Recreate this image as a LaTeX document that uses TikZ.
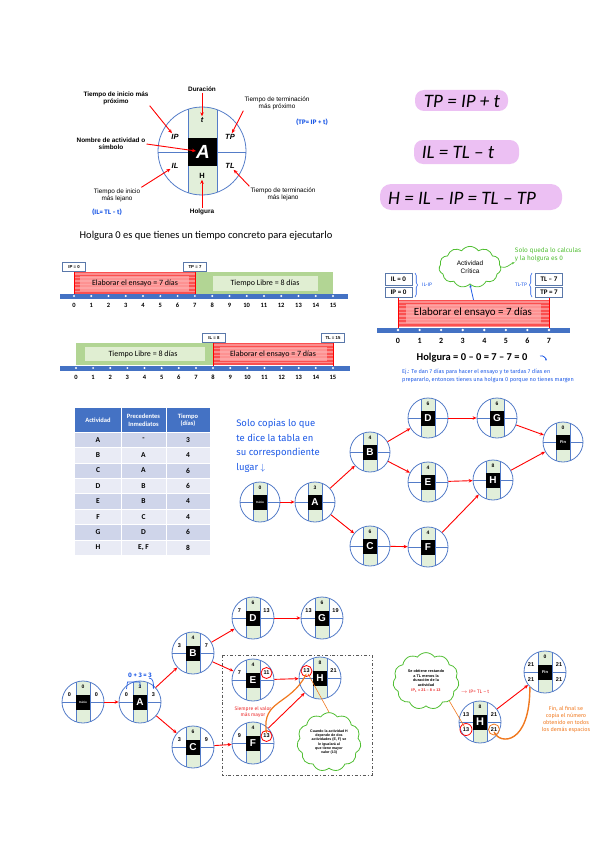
\documentclass[tikz,border=0pt]{standalone}
\usepackage{fontspec}
\setmainfont{Liberation Sans}
\newfontfamily\calib{Carlito}
\newfontfamily\hand{Fira Sans}
\usetikzlibrary{shapes.symbols,shapes.geometric,arrows.meta,decorations.pathreplacing,calc}
\definecolor{cblue}{RGB}{84,124,200}
\definecolor{cgreen}{RGB}{226,239,218}
\definecolor{hblue}{RGB}{30,90,230}
\definecolor{hgreen}{RGB}{80,190,50}
\definecolor{horange}{RGB}{240,120,30}
\definecolor{hred}{RGB}{235,40,40}
\definecolor{hpurple}{RGB}{236,192,243}
\definecolor{gred}{RGB}{250,80,80}
\definecolor{gredl}{RGB}{255,175,175}
\definecolor{ggreen}{RGB}{178,213,148}
\definecolor{ggreenl}{RGB}{224,238,210}
\definecolor{axblue}{RGB}{68,114,196}
\definecolor{trowa}{RGB}{207,213,234}
\definecolor{trowb}{RGB}{233,235,245}
\definecolor{boxbd}{RGB}{90,120,170}
\newcommand{\fsz}[2]{\fontsize{#1}{#2}\selectfont}
\tikzset{
  redarr/.style={draw=red, line width=0.9pt, -{Stealth[length=4pt,width=3.5pt]}},
  actc/.style={circle, draw=cblue, line width=0.8pt, inner sep=0pt},
  legtxt/.style={font=\bfseries\fsz{6.4}{7}, align=center, inner sep=1pt},
  legtxtn/.style={font=\fsz{6.4}{7}, align=center, inner sep=1pt},
  qtxt/.style={font=\bfseries\fsz{5.5}{6}, inner sep=0.5pt},
  gbox/.style={draw=boxbd, fill=white, line width=0.6pt, font=\bfseries\fsz{4.3}{5}, inner sep=1pt, minimum width=23pt, minimum height=9pt},
  rbox/.style={draw=boxbd, fill=white, line width=0.8pt, font=\calib\bfseries\fsz{7}{8}, inner sep=0pt, minimum width=27pt},
  gtxt/.style={font=\calib\fsz{8}{9}},
  numf/.style={font=\calib\bfseries\fsz{6.5}{7}, inner sep=0pt},
  handb/.style={text=hblue, font=\hand\fsz{6.5}{8}, align=left, inner sep=0pt},
  cloudg/.style={cloud, cloud puffs=11, cloud puff arc=110, draw=hgreen, line width=0.8pt, fill=white, align=center, inner sep=0pt},
  tcell/.style={font=\calib\bfseries\fsz{7.5}{8}, inner sep=0pt},
  thd/.style={font=\calib\bfseries\fsz{6.5}{7.5}, text=white, align=center, inner sep=0pt}
}
% activity node: name, x, y, radius, label, label font, top number
\newcommand{\actv}[7]{%
  \begin{scope}
    \clip (#2,#3) circle[radius=#4];
    \fill[cgreen] (#2-7,#3-#4) rectangle (#2+7,#3+#4);
    \draw[cblue,line width=0.6pt] (#2-7,#3-#4) -- (#2-7,#3+#4) (#2+7,#3-#4) -- (#2+7,#3+#4) (#2-#4,#3) -- (#2+#4,#3);
  \end{scope}
  \fill[black] (#2-7,#3-7.5) rectangle (#2+7,#3+7.5);
  \node[actc, minimum size=#4*2pt] (#1) at (#2,#3) {};
  \node[text=white, font=#6, inner sep=0pt] (#1l) at (#2,#3) {#5};
  \node[font=\bfseries\fsz{5}{6}, inner sep=0pt] (#1t) at (#2,#3-#4+6) {#7};
}
\newcommand{\qnum}[4]{\node[qtxt] (#1) at (#2,#3) {#4};}
\begin{document}
\begin{tikzpicture}[x=1pt,y=-1pt]
\useasboundingbox (0,0) rectangle (600,848);

% ================= legend (top-left)
\begin{scope}
  \clip (202,151) circle[radius=44];
  \fill[cgreen] (188,100) rectangle (217,200);
  \draw[cblue,line width=0.7pt] (188,100) -- (188,200) (217,100) -- (217,200) (150,152) -- (260,152);
\end{scope}
\fill[black] (188,138) rectangle (217,166);
\node[actc, minimum size=88pt] (bigc) at (202,151) {};
\node[text=white, font=\bfseries\itshape\fsz{19}{20}, inner sep=0pt] (bigA) at (203,152) {A};
\node[font=\bfseries\itshape\fsz{7.5}{8}, inner sep=1pt] (bt) at (202,120) {t};
\node[font=\bfseries\fsz{7.5}{8}, inner sep=1pt] (bH) at (202,176) {H};
\node[font=\bfseries\itshape\fsz{7.5}{8}, inner sep=1pt] (bIP) at (175,137) {IP};
\node[font=\bfseries\itshape\fsz{7.5}{8}, inner sep=1pt] (bTP) at (230,137) {TP};
\node[font=\bfseries\itshape\fsz{7.5}{8}, inner sep=1pt] (bIL) at (175,166) {IL};
\node[font=\bfseries\itshape\fsz{7.5}{8}, inner sep=1pt] (bTL) at (230,166) {TL};

\node[legtxt] (lDur) at (202,89) {Duración};
\node[legtxt] (lIPp) at (116,98) {Tiempo de inicio más\\próximo};
\node[legtxtn] (lTPp) at (277,103) {Tiempo de terminación\\más próximo};
\node[legtxt] (lNom) at (111,144) {Nombre de actividad o\\símbolo};
\node[legtxtn] (lILl) at (117,195) {Tiempo de inicio\\más lejano};
\node[legtxtn] (lTLl) at (283,194) {Tiempo de terminación\\más lejano};
\node[legtxt] (lHol) at (202,212) {Holgura};
\node[handb, font=\hand\bfseries\fsz{6.5}{8}] (fTP) at (312,122) {(TP= IP + t)};
\node[handb, font=\hand\bfseries\fsz{6.5}{8}] (fIL) at (107,212) {(IL= TL - t)};

\draw[redarr] (lDur) -- (bt);
\draw[redarr] (lIPp.south east) -- (bIP);
\draw[redarr] (lTPp.south west) -- (bTP);
\draw[redarr] (lNom.east) -- (bigA);
\draw[redarr] (lILl.north east) -- (bIL);
\draw[redarr] (lTLl.north west) -- (bTL);
\draw[redarr] (lHol) -- (bH);

% ================= formulas (top-right)
\fill[hpurple, rounded corners=9pt] (415,90) rectangle (508,111);
\fill[hpurple, rounded corners=9pt] (414,140) rectangle (519,164);
\fill[hpurple, rounded corners=11pt] (380,184) rectangle (562,210);
\node[font=\calib\itshape\fsz{19}{21}, inner sep=0pt] (f1) at (462,101) {TP = IP + t};
\node[font=\calib\itshape\fsz{19}{21}, inner sep=0pt] (f2) at (458,152) {IL = TL – t};
\node[font=\calib\itshape\fsz{19}{21}, inner sep=0pt] (f3) at (462,198) {H = IL – IP = TL – TP};

% ================= Holgura sentence
\node[font=\calib\fsz{10.5}{11}, inner sep=0pt] (hsent) at (206,236) {Holgura 0 es que tienes un tiempo concreto para ejecutarlo};

% ================= Gantt 1
\fill[gred] (74,272) rectangle (195,295);
\foreach \yy in {274,277.5,...,294} {\draw[white,opacity=0.35,line width=1.1pt] (74,\yy) -- (195,\yy);}
\fill[gredl,opacity=0.7] (80,276) rectangle (189,291);
\fill[ggreen] (195,272) rectangle (333,295);
\fill[ggreenl] (213,276) rectangle (318,291);
\draw[red,line width=0.8pt] (74,268) -- (74,296) (195,268) -- (195,296);
\fill[axblue] (60,293.5) rectangle (348,298.5);
\foreach \i in {0,...,15} {
  \fill[white] (74+\i*17.27,296) circle[radius=1.1];
  \node[numf] (ga\i) at (74+\i*17.27,305) {\i};
}
\node[gtxt] (g1a) at (135,283) {Elaborar el ensayo = 7 días};
\node[gtxt] (g1b) at (265,283) {Tiempo Libre = 8 días};
\node[gbox] (g1ip) at (74,267) {IP = 0};
\node[gbox, line width=1pt] (g1tp) at (195,267) {TP = 7};

% ================= Gantt 2
\fill[ggreen] (76,343) rectangle (213,365);
\fill[ggreenl] (85,347) rectangle (205,361);
\fill[gred] (213,343) rectangle (333,365);
\foreach \yy in {345,348.5,...,365} {\draw[white,opacity=0.35,line width=1.1pt] (213,\yy) -- (333,\yy);}
\fill[gredl,opacity=0.7] (220,347) rectangle (327,361);
\draw[red,line width=0.8pt] (213,343) -- (213,368) (333,343) -- (333,368);
\fill[axblue] (60,365.5) rectangle (350,370.5);
\foreach \i in {0,...,15} {
  \fill[white] (76+\i*17.13,368) circle[radius=1.1];
  \node[numf] (gb\i) at (76+\i*17.13,377) {\i};
}
\node[gtxt] (g2a) at (143,354) {Tiempo Libre = 8 días};
\node[gtxt] (g2b) at (273,354) {Elaborar el ensayo = 7 días};
\node[gbox] (g2il) at (214,338) {IL = 8};
\node[gbox] (g2tl) at (333,338) {TL = 15};

% ================= Gantt 3 (right)
\node[fill=gred, minimum width=151pt, minimum height=27pt, inner sep=0pt] (rbar) at (473.5,313.5) {};
\foreach \yy in {302,305.5,...,327} {\draw[white,opacity=0.35,line width=1.1pt] (398,\yy) -- (549,\yy);}
\fill[gredl,opacity=0.7] (406,304) rectangle (541,323);
\draw[red,line width=0.8pt] (398,298) -- (398,330) (549,298) -- (549,330);
\fill[axblue] (377,327.5) rectangle (570,332.5);
\foreach \i in {0,...,7} {
  \fill[white] (398+\i*21.57,330) circle[radius=1.3];
  \node[font=\calib\bfseries\fsz{8}{9}, inner sep=0pt] (gc\i) at (398+\i*21.57,341) {\i};
}
\node[font=\calib\fsz{11}{12}, inner sep=0pt] (g3a) at (473,313) {Elaborar el ensayo = 7 días};
\node[rbox, minimum height=12pt] (g3il) at (398.5,279) {IL = 0};
\node[rbox, minimum height=10pt] (g3ip) at (398.5,292) {IP = 0};
\node[rbox, minimum height=12pt] (g3tl) at (549,279) {TL – 7};
\node[rbox, minimum height=10pt] (g3tp) at (549,292) {TP = 7};
\draw[hblue, line width=0.6pt, decorate, decoration={brace, amplitude=2.5pt}] (415,273) -- (415,297);
\draw[hblue, line width=0.6pt, decorate, decoration={brace, amplitude=2.5pt}] (532,297) -- (532,273);
\node[handb, font=\hand\fsz{5}{6}] (g3l) at (427,285) {IL-IP};
\node[handb, font=\hand\fsz{5}{6}] (g3r) at (521,285) {TL-TP};
\node[cloudg, minimum width=62pt, minimum height=36pt, font=\fsz{6.5}{8}] (cl1) at (470,267) {Actividad\\Crítica};
\draw[hblue, line width=0.8pt, -{Stealth[length=3pt]}] (rbar.north) -- (cl1.south);
\node[text=hgreen, font=\hand\fsz{6.5}{8}, align=left, inner sep=0pt] (gtx) at (548,255) {Solo queda lo calculas\\y la holgura es 0};
\draw[hgreen, line width=0.7pt, -{Stealth[length=3pt]}] (cl1.east) to[out=-20,in=200] (gtx.south west);
\node[font=\calib\bfseries\fsz{10.5}{11}, inner sep=0pt] (g3h) at (472,358) {Holgura = 0 – 0 = 7 – 7 = 0};
\coordinate (hk1) at (540,356);
\coordinate (hk2) at (546,361);
\draw[hblue, line width=0.8pt, -{Stealth[length=2.5pt]}] (hk1) to[out=20,in=90] (hk2);
\node[handb, font=\hand\fsz{5.6}{8}] (g3n) at (488,376) {Ej.: Te dan 7 días para hacer el ensayo y te tardas 7 días en\\prepararlo, entonces tienes una holgura 0 porque no tienes margen};

% ================= table
\fill[axblue] (75,408) rectangle (210,432);
\foreach \i in {0,2,4,6} {\fill[trowa] (75,432+\i*15.4) rectangle (210,447.4+\i*15.4);}
\foreach \i in {1,3,5,7} {\fill[trowb] (75,432+\i*15.4) rectangle (210,447.4+\i*15.4);}
\draw[white, line width=0.8pt] (121,408) -- (121,555.2) (166,408) -- (166,555.2);
\foreach \i in {0,...,8} {\draw[white, line width=0.6pt] (75,432+\i*15.4) -- (210,432+\i*15.4);}
\node[thd] (th1) at (98,420) {Actividad};
\node[thd] (th2) at (143.5,420) {Precedentes\\Inmediatos};
\node[thd] (th3) at (188,420) {Tiempo\\(días)};
\foreach \a/\p/\t [count=\i from 0] in {A/{-}/3, B/A/4, C/A/6, D/B/6, E/B/4, F/C/4, G/D/6, H/{E, F}/8} {
  \node[tcell] (ta\i) at (98,439.7+\i*15.4) {\a};
  \node[tcell] (tp\i) at (143.5,439.7+\i*15.4) {\p};
  \node[tcell] (tt\i) at (188,439.7+\i*15.4) {\t};
}

% ================= network 1
\node[handb, font=\hand\fsz{9.5}{14.5}] (n1note) at (278,446) {Solo copias lo que\\te dice la tabla en\\su correspondiente\\lugar $\downarrow$};
\actv{mI}{260}{502}{20}{Inicio}{\bfseries\fsz{3}{3}}{0}
\actv{mA}{315}{502}{20}{A}{\bfseries\fsz{10}{10}}{3}
\actv{mB}{370}{452}{20}{B}{\bfseries\fsz{10}{10}}{4}
\actv{mC}{370}{546}{20}{C}{\bfseries\fsz{10}{10}}{6}
\actv{mD}{428}{418}{20}{D}{\bfseries\fsz{10}{10}}{6}
\actv{mE}{428}{482}{20}{E}{\bfseries\fsz{10}{10}}{4}
\actv{mF}{428}{547}{20}{F}{\bfseries\fsz{10}{10}}{4}
\actv{mG}{497}{418}{20}{G}{\bfseries\fsz{10}{10}}{6}
\actv{mH}{493}{480}{20}{H}{\bfseries\fsz{10}{10}}{8}
\actv{mFin}{563}{442}{20}{Fin}{\bfseries\fsz{4}{4}}{0}
\foreach \s/\t in {mI/mA, mA/mB, mA/mC, mB/mD, mB/mE, mC/mF, mD/mG, mE/mH, mF/mH, mG/mFin, mH/mFin} {\draw[redarr] (\s) -- (\t);}

% ================= network 2
\draw[gray!70!black, line width=0.9pt, dash dot] (222,655) rectangle (372,775);
\actv{pI}{83}{702}{21}{Inicio}{\bfseries\fsz{3}{3}}{0}
\actv{pA}{140}{702}{21}{A}{\bfseries\fsz{10}{10}}{3}
\actv{pB}{193}{653}{21}{B}{\bfseries\fsz{10}{10}}{4}
\actv{pC}{193}{747}{21}{C}{\bfseries\fsz{10}{10}}{6}
\actv{pD}{253}{618}{21}{D}{\bfseries\fsz{10}{10}}{6}
\actv{pE}{253}{680}{21}{E}{\bfseries\fsz{10}{10}}{4}
\actv{pF}{253}{743}{21}{F}{\bfseries\fsz{10}{10}}{4}
\actv{pG}{322}{618}{21}{G}{\bfseries\fsz{10}{10}}{6}
\actv{pH}{320}{678}{21}{H}{\bfseries\fsz{10}{10}}{8}
\qnum{pIa}{69.5}{695}{0}\qnum{pIb}{96.5}{695}{0}
\qnum{pAa}{126.5}{695}{0}\qnum{pAb}{153.5}{695}{3}
\qnum{pBa}{179.5}{646}{3}\qnum{pBb}{206.5}{646}{7}
\qnum{pCa}{179.5}{740}{3}\qnum{pCb}{206.5}{740}{9}
\qnum{pDa}{239.5}{611}{7}\qnum{pDb}{266.5}{611}{13}
\qnum{pEa}{239.5}{673}{7}\qnum{pEb}{266.5}{673}{11}
\qnum{pFa}{239.5}{736}{9}\qnum{pFb}{266.5}{736}{13}
\qnum{pGa}{308.5}{611}{13}\qnum{pGb}{335.5}{611}{19}
\qnum{pHa}{306.5}{671}{13}\qnum{pHb}{333.5}{671}{21}
\draw[red, line width=0.8pt] (pEb) circle[radius=5.5] (pFb) circle[radius=5.5] (pHa) circle[radius=5.5];
\foreach \s/\t in {pI/pA, pA/pB, pA/pC, pB/pD, pB/pE, pC/pF, pD/pG, pE/pH, pF/pH} {\draw[redarr] (\s) -- (\t);}
\node[text=hblue, font=\hand\bfseries\fsz{6.5}{7}, inner sep=0pt] (pnote) at (140,675) {0 + 3 = 3};
\coordinate (pb1) at (126.5,689);
\coordinate (pb2) at (140,687);
\draw[hblue, line width=0.7pt] (pb1) -- ++(1,-7) -| (pb2);
\coordinate (pc1) at (149,678);
\coordinate (pc2) at (153.5,689);
\draw[hblue, line width=0.7pt, -{Stealth[length=2.5pt]}] (pc1) to[out=0,in=90] (pc2);
\node[text=hred, font=\hand\fsz{5}{6}, align=center, inner sep=0pt] (pred) at (253,712) {Siempre el valor\\más mayor};
\draw[horange, line width=1.2pt, {Stealth[length=3pt]}-{Stealth[length=3pt]}] (pFb.north) .. controls (262,700) and (290,705) .. (pHa.south);
\node[cloudg, minimum width=64pt, minimum height=46pt, font=\bfseries\fsz{3.6}{4.3}] (cl2) at (329,742) {Cuando la actividad H\\depende de dos\\actividades (E, F) se\\le igualará al\\que tiene mayor\\valor (13)};
\draw[horange, line width=0.6pt] (pHa) -- (cl2.north);

% ================= bottom right
\actv{qH}{480}{722}{21}{H}{\bfseries\fsz{11}{11}}{8}
\actv{qF}{545}{672}{21}{Fin}{\bfseries\fsz{4}{4}}{0}
\qnum{qHa}{466}{715}{13}\qnum{qHb}{494}{715}{21}
\qnum{qHc}{466}{729.5}{13}\qnum{qHd}{494}{729.5}{21}
\qnum{qFa}{531}{665}{21}\qnum{qFb}{559}{665}{21}
\qnum{qFc}{531}{679.5}{21}\qnum{qFd}{559}{679.5}{21}
\draw[red, line width=0.8pt] (qHc) circle[radius=6];
\draw[horange, line width=0.8pt] (qHd) circle[radius=5.5];
\draw[redarr] (qH) -- (qF);
\node[cloudg, minimum width=66pt, minimum height=50pt, font=\bfseries\fsz{3.8}{4.8}] (cl3) at (426,681) {Se obtiene restando\\a TL menos la\\duración de la\\actividad\\\textcolor{hred}{IP\textsubscript{1} = 21 – 8 = 13}};
\node[text=hred, font=\hand\fsz{5}{6}, inner sep=0pt] (qred) at (475,692) {$\rightarrow$ IP= TL – t};
\draw[horange, line width=0.6pt] (qHc) -- (cl3.south east);
\draw[horange, line width=1.4pt] (qHd.south) .. controls (500,745) and (530,745) .. (qF.south west);
\node[text=horange, font=\hand\fsz{5.5}{7}, align=center, inner sep=0pt] (qtx) at (566,719) {Fin, al final se\\copia el número\\obtenido en todos\\los demás espacios};

\end{tikzpicture}
\end{document}
